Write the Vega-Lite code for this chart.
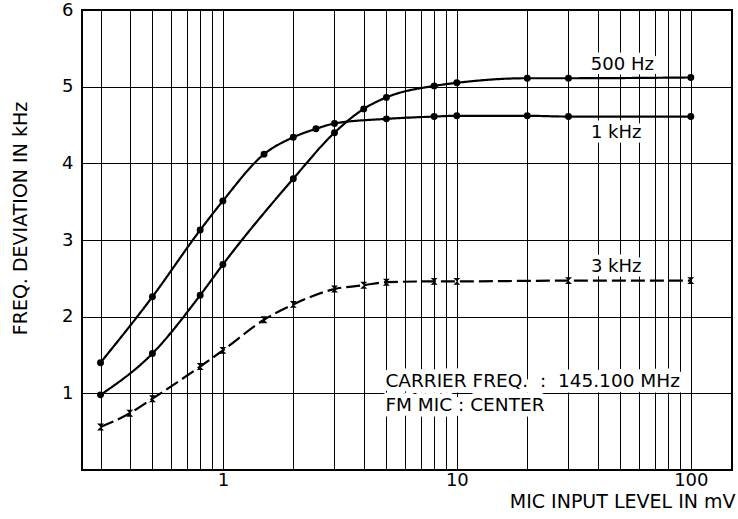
{
  "$schema": "https://vega.github.io/schema/vega-lite/v6.json",
  "width": 650,
  "height": 460,
  "autosize": {"type": "none"},
  "padding": {"left": 82, "top": 10, "right": 6, "bottom": 49},
  "background": "white",
  "config": {
    "font": "DejaVu Sans",
    "view": {"stroke": "black", "strokeWidth": 2},
    "axis": {
      "gridColor": "black",
      "gridWidth": 1,
      "gridOpacity": 1,
      "ticks": false,
      "domain": false,
      "labelColor": "black",
      "titleColor": "black",
      "labelFontSize": 18,
      "titleFontSize": 18,
      "titleFontWeight": "normal",
      "labelOverlap": false,
      "labelFlush": false
    }
  },
  "datasets": {
    "curves": [
      {"series": "500 Hz", "x": 0.3, "y": 0.98},
      {"series": "500 Hz", "x": 0.5, "y": 1.52},
      {"series": "500 Hz", "x": 0.8, "y": 2.28},
      {"series": "500 Hz", "x": 1, "y": 2.68},
      {"series": "500 Hz", "x": 2, "y": 3.8},
      {"series": "500 Hz", "x": 3, "y": 4.4},
      {"series": "500 Hz", "x": 4, "y": 4.71},
      {"series": "500 Hz", "x": 5, "y": 4.86},
      {"series": "500 Hz", "x": 8, "y": 5.01},
      {"series": "500 Hz", "x": 10, "y": 5.05},
      {"series": "500 Hz", "x": 20, "y": 5.11},
      {"series": "500 Hz", "x": 30, "y": 5.11},
      {"series": "500 Hz", "x": 100, "y": 5.12},
      {"series": "1 kHz", "x": 0.3, "y": 1.4},
      {"series": "1 kHz", "x": 0.5, "y": 2.26},
      {"series": "1 kHz", "x": 0.8, "y": 3.13},
      {"series": "1 kHz", "x": 1, "y": 3.51},
      {"series": "1 kHz", "x": 1.5, "y": 4.12},
      {"series": "1 kHz", "x": 2, "y": 4.34},
      {"series": "1 kHz", "x": 2.5, "y": 4.45},
      {"series": "1 kHz", "x": 3, "y": 4.52},
      {"series": "1 kHz", "x": 5, "y": 4.58},
      {"series": "1 kHz", "x": 8, "y": 4.61},
      {"series": "1 kHz", "x": 10, "y": 4.62},
      {"series": "1 kHz", "x": 20, "y": 4.62},
      {"series": "1 kHz", "x": 30, "y": 4.61},
      {"series": "1 kHz", "x": 100, "y": 4.61},
      {"series": "3 kHz", "x": 0.3, "y": 0.56},
      {"series": "3 kHz", "x": 0.4, "y": 0.74},
      {"series": "3 kHz", "x": 0.5, "y": 0.93},
      {"series": "3 kHz", "x": 0.8, "y": 1.35},
      {"series": "3 kHz", "x": 1, "y": 1.56},
      {"series": "3 kHz", "x": 1.5, "y": 1.96},
      {"series": "3 kHz", "x": 2, "y": 2.16},
      {"series": "3 kHz", "x": 3, "y": 2.36},
      {"series": "3 kHz", "x": 4, "y": 2.41},
      {"series": "3 kHz", "x": 5, "y": 2.45},
      {"series": "3 kHz", "x": 8, "y": 2.46},
      {"series": "3 kHz", "x": 10, "y": 2.46},
      {"series": "3 kHz", "x": 30, "y": 2.47},
      {"series": "3 kHz", "x": 100, "y": 2.47}
    ],
    "curveLabels": [
      {"text": "500 Hz", "x": 51, "y": 5.28},
      {"text": "1 kHz", "x": 48, "y": 4.39},
      {"text": "3 kHz", "x": 48, "y": 2.65}
    ],
    "notes": [
      {"text": "CARRIER FREQ.\u00a0\u00a0:\u00a0\u00a0145.100\u00a0MHz", "x": 4.95, "y": 1.16},
      {"text": "FM MIC : CENTER", "x": 4.95, "y": 0.85}
    ]
  },
  "layer": [
    {
      "data": {"name": "curves"},
      "mark": {"type": "line", "interpolate": "monotone", "strokeWidth": 2.2, "color": "black"},
      "encoding": {
        "x": {
          "field": "x",
          "type": "quantitative",
          "scale": {"type": "log", "domain": [0.25, 150], "nice": false},
          "axis": {
            "values": [0.3, 0.4, 0.5, 0.6, 0.7, 0.8, 0.9, 1, 2, 3, 4, 5, 6, 7, 8, 9, 10, 20, 30, 40, 50, 60, 70, 80, 90, 100],
            "labelExpr": "datum.value == 1 ? '1' : datum.value == 10 ? '10' : datum.value == 100 ? '100' : ''",
            "labelPadding": 1,
            "labelFontSize": 18,
            "title": "MIC INPUT LEVEL IN mV",
            "titleFontSize": 19,
            "titleAnchor": "end",
            "titleAlign": "right",
            "titleX": 653,
            "titleY": 37,
            "titleBaseline": "alphabetic"
          }
        },
        "y": {
          "field": "y",
          "type": "quantitative",
          "scale": {"domain": [0, 6], "nice": false},
          "axis": {
            "values": [1, 2, 3, 4, 5, 6],
            "format": "d",
            "labelPadding": 9,
            "title": "FREQ. DEVIATION IN kHz",
            "titleFontSize": 19,
            "titleX": -62,
            "titleY": 208,
            "titleAngle": -90,
            "titleAlign": "center",
            "titleBaseline": "middle"
          }
        },
        "detail": {"field": "series"},
        "order": {"field": "x"},
        "strokeDash": {
          "field": "series",
          "scale": {"domain": ["500 Hz", "1 kHz", "3 kHz"], "range": [[1, 0], [1, 0], [14, 5]]},
          "legend": null
        }
      }
    },
    {
      "data": {"name": "curves"},
      "mark": {"type": "point", "filled": true, "color": "black", "opacity": 1},
      "encoding": {
        "x": {"field": "x", "type": "quantitative"},
        "y": {"field": "y", "type": "quantitative"},
        "shape": {
          "field": "series",
          "scale": {"domain": ["500 Hz", "1 kHz", "3 kHz"], "range": ["circle", "circle", "M-1,-1H1L-1,1H1Z"]},
          "legend": null
        },
        "size": {
          "field": "series",
          "scale": {"domain": ["500 Hz", "1 kHz", "3 kHz"], "range": [48, 48, 30]},
          "legend": null
        }
      }
    },
    {
      "data": {"name": "curveLabels"},
      "mark": {"type": "text", "fontSize": 18, "stroke": "white", "strokeWidth": 9, "strokeJoin": "round", "baseline": "middle", "align": "center"},
      "encoding": {
        "x": {"field": "x", "type": "quantitative"},
        "y": {"field": "y", "type": "quantitative"},
        "text": {"field": "text"}
      }
    },
    {
      "data": {"name": "curveLabels"},
      "mark": {"type": "text", "fontSize": 18, "color": "black", "baseline": "middle", "align": "center"},
      "encoding": {
        "x": {"field": "x", "type": "quantitative"},
        "y": {"field": "y", "type": "quantitative"},
        "text": {"field": "text"}
      }
    },
    {
      "data": {"name": "notes"},
      "mark": {"type": "text", "fontSize": 18.5, "stroke": "white", "strokeWidth": 11, "strokeJoin": "round", "baseline": "middle", "align": "left"},
      "encoding": {
        "x": {"field": "x", "type": "quantitative"},
        "y": {"field": "y", "type": "quantitative"},
        "text": {"field": "text"}
      }
    },
    {
      "data": {"name": "notes"},
      "mark": {"type": "text", "fontSize": 18.5, "color": "black", "baseline": "middle", "align": "left"},
      "encoding": {
        "x": {"field": "x", "type": "quantitative"},
        "y": {"field": "y", "type": "quantitative"},
        "text": {"field": "text"}
      }
    }
  ]
}
